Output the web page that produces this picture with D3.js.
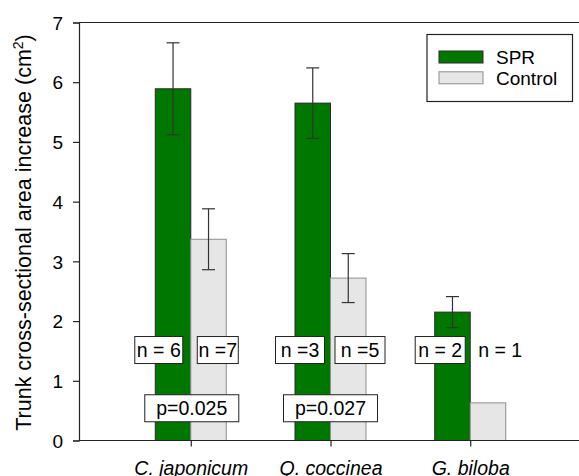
<!DOCTYPE html>
<html>
<head>
<meta charset="utf-8">
<script src="https://cdn.jsdelivr.net/npm/d3@7"></script>
<style>
  body { margin: 0; background: #fff; }
  text { font-family: "Liberation Sans", Arial, sans-serif; fill: #000; }
</style>
</head>
<body>
<div id="chart"></div>
<script>
// Trunk cross-sectional area increase, SPR vs Control, three species
const species = ["C. japonicum", "Q. coccinea", "G. biloba"];
const groups = ["SPR", "Control"];
const sprMean = [5.89, 5.65, 2.15];
const sprErr = [0.77, 0.59, 0.26];
const ctrlMean = [3.37, 2.72, 0.63];
const ctrlErr = [0.51, 0.41, null];
const nLabels = [["n = 6", "n =7"], ["n =3", "n =5"], ["n = 2", "n = 1"]];
const pLabels = ["p=0.025", "p=0.027", null];
const yTicks = [0, 1, 2, 3, 4, 5, 6, 7];

const width = 579, height = 476;
const margin = { top: 22.5, right: -3, bottom: 35.5, left: 79 };
const colors = { SPR: "#007800", Control: "#e6e6e6" };
const strokes = { SPR: "#2a2a2a", Control: "#8e8e8e" };

const svg = d3.select("#chart").append("svg")
  .attr("width", width).attr("height", height);

const x = d3.scalePoint().domain(species)
  .range([margin.left, width - margin.right]).padding(0.8);
const y = d3.scaleLinear().domain([0, 7])
  .range([height - margin.bottom, margin.top]);
const barW = 35.5;

const rows = species.map((s, i) => ({
  s, i,
  bars: [
    { g: "SPR", v: sprMean[i], e: sprErr[i] },
    { g: "Control", v: ctrlMean[i], e: ctrlErr[i] },
  ],
}));

// bars
const grp = svg.selectAll("g.sp").data(rows).join("g").attr("class", "sp");
grp.selectAll("rect").data(d => d.bars.map((b, k) => ({ ...b, s: d.s, k }))).join("rect")
  .attr("x", d => x(d.s) + (d.k - 1) * barW)
  .attr("y", d => y(d.v))
  .attr("width", barW)
  .attr("height", d => y(0) - y(d.v))
  .attr("fill", d => colors[d.g])
  .attr("stroke", d => strokes[d.g])
  .attr("stroke-width", 1);

// error bars
const errs = rows.flatMap(d => d.bars.map((b, k) => ({ ...b, s: d.s, k }))).filter(d => d.e != null);
const eg = svg.selectAll("g.err").data(errs).join("g").attr("class", "err")
  .attr("stroke", "#333").attr("stroke-width", 1.2);
eg.append("line")
  .attr("x1", d => x(d.s) + (d.k - 0.5) * barW).attr("x2", d => x(d.s) + (d.k - 0.5) * barW)
  .attr("y1", d => y(d.v + d.e)).attr("y2", d => y(d.v - d.e));
[1, -1].forEach(sg => {
  eg.append("line")
    .attr("x1", d => x(d.s) + (d.k - 0.5) * barW - 6.5)
    .attr("x2", d => x(d.s) + (d.k - 0.5) * barW + 6.5)
    .attr("y1", d => y(d.v + sg * d.e)).attr("y2", d => y(d.v + sg * d.e));
});

// frame: top line
svg.append("line")
  .attr("x1", margin.left).attr("x2", width)
  .attr("y1", margin.top).attr("y2", margin.top)
  .attr("stroke", "#222").attr("stroke-width", 1.2);

// axes
const yAxis = svg.append("g")
  .attr("transform", `translate(${margin.left},0)`)
  .call(d3.axisLeft(y).tickValues(yTicks).tickSize(6).tickPadding(10).tickFormat(d3.format("d")));
yAxis.selectAll("text").attr("font-size", 19).attr("dy", "0.35em");
const xAxis = svg.append("g")
  .attr("transform", `translate(0,${y(0)})`)
  .call(d3.axisBottom(x).tickSize(6).tickPadding(12));
xAxis.select(".domain").attr("d", `M${margin.left},0H${width}`);
xAxis.selectAll("text").attr("font-size", 19.5).attr("font-style", "italic").attr("dy", "0.85em");
svg.selectAll(".domain, .tick line").attr("stroke", "#222").attr("stroke-width", 1.2);

// y title
svg.append("text")
  .attr("transform", `translate(30.5,${(margin.top + y(0)) / 2 + 1}) rotate(-90)`)
  .attr("text-anchor", "middle").attr("font-size", 21.5)
  .html('Trunk cross-sectional area increase (cm<tspan dy="-8" font-size="14">2</tspan><tspan dy="8">)</tspan>');

// annotation boxes
function labelBox(cx, cy, txt, boxed, w) {
  const g = svg.append("g");
  if (boxed) {
    g.append("rect").attr("x", cx - w / 2).attr("y", cy - 13.5)
      .attr("width", w).attr("height", 27)
      .attr("fill", "#fff").attr("stroke", "#222").attr("stroke-width", 1);
  }
  g.append("text").attr("x", cx).attr("y", cy).attr("dy", "0.36em")
    .attr("text-anchor", "middle").attr("font-size", 19.5).text(txt);
}
const nY = y(1.515), pY = y(0.54);
const nOffsets = [[-32, 27], [-30.5, 29.5], [-30, 30]];
const nWidths = [[48, 41], [49, 50], [50, 0]];
rows.forEach(d => {
  const cx = x(d.s);
  nLabels[d.i].forEach((t, k) => {
    labelBox(cx + nOffsets[d.i][k], nY, t, nWidths[d.i][k] > 0, nWidths[d.i][k]);
  });
  if (pLabels[d.i]) labelBox(cx + (d.i === 0 ? 1 : 0), pY, pLabels[d.i], true, 94);
});

// legend
const lg = svg.append("g").attr("transform", "translate(427,34.5)");
lg.append("rect").attr("width", 145.5).attr("height", 67)
  .attr("fill", "#fff").attr("stroke", "#222").attr("stroke-width", 1.2);
groups.forEach((g, i) => {
  lg.append("rect").attr("x", 12).attr("y", 16.5 + i * 20.8)
    .attr("width", 44).attr("height", 12)
    .attr("fill", colors[g]).attr("stroke", strokes[g]);
  lg.append("text").attr("x", 69).attr("y", 22.5 + i * 20.8).attr("dy", "0.36em")
    .attr("font-size", 19).text(g);
});
</script>
</body>
</html>
